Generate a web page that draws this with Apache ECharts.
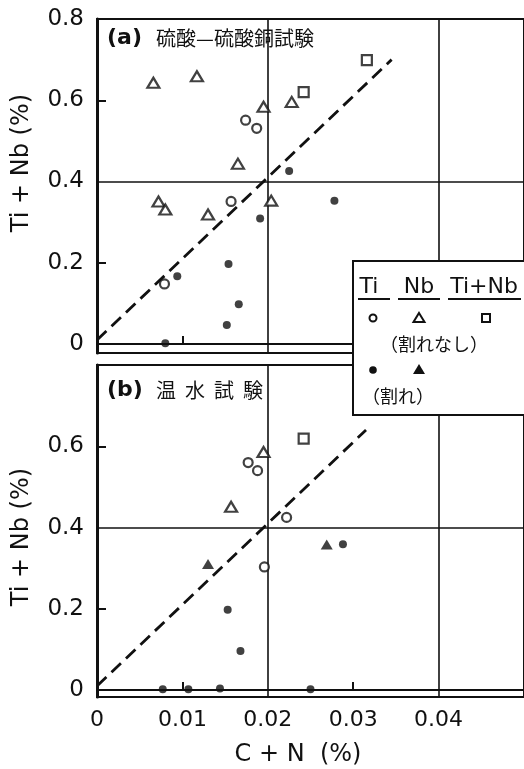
<!DOCTYPE html>
<html>
<head>
<meta charset="utf-8">
<script src="https://cdn.jsdelivr.net/npm/echarts@6/dist/echarts.min.js"></script>
<style>
  html, body { margin: 0; padding: 0; background: #fff; }
  #chart { width: 524px; height: 769px; }
</style>
</head>
<body>
<div id="chart"></div>
<script>
// (a) 硫酸-硫酸銅試験  [C+N %, Ti+Nb %]
const aTiOpen = [[0.0174, 0.551], [0.0187, 0.531], [0.0157, 0.351], [0.0079, 0.148]]
const aNbOpen = [[0.0066, 0.643], [0.0117, 0.659], [0.0195, 0.584], [0.0228, 0.596], [0.0165, 0.444],
  [0.0072, 0.351], [0.0080, 0.331], [0.0130, 0.319], [0.0204, 0.353]]
const aTiNbOpen = [[0.0316, 0.699], [0.0242, 0.620]]
const aTiCrack = [[0.0225, 0.426], [0.0278, 0.353], [0.0191, 0.309], [0.0154, 0.197], [0.0094, 0.167],
  [0.0166, 0.098], [0.0152, 0.047], [0.0080, 0.002]]
const aGuide = [[0, 0.01], [0.0345, 0.70]]

// (b) 温水試験
const bTiOpen = [[0.0177, 0.560], [0.0188, 0.540], [0.0222, 0.425], [0.0196, 0.303]]
const bNbOpen = [[0.0195, 0.586], [0.0157, 0.451]]
const bTiNbOpen = [[0.0242, 0.619]]
const bTiCrack = [[0.0288, 0.359], [0.0153, 0.198], [0.0168, 0.096], [0.0077, 0.002], [0.0107, 0.002],
  [0.0144, 0.004], [0.0250, 0.002]]
const bNbCrack = [[0.0130, 0.310], [0.0269, 0.358]]
const bGuide = [[0, 0.01], [0.0315, 0.64]]

const xLabels = [0, 0.01, 0.02, 0.03, 0.04]
const xTicks = [0.01, 0.03]
const yLabelsA = [0, 0.2, 0.4, 0.6, 0.8]
const yLabelsB = [0, 0.2, 0.4, 0.6]
const yTicks = [0.2, 0.6]
const refY = [0, 0.4]
const refX = [0.02, 0.04]

const ink = '#111'
const numFont = 'DejaVu Sans'
const cjkFont = 'Noto Sans CJK JP'

const chart = echarts.init(document.getElementById('chart'))

function xAxisFor (gridIndex, showLabels) {
  return {
    type: 'value',
    gridIndex: gridIndex,
    min: 0,
    max: 0.05,
    axisLine: { show: true, lineStyle: { color: ink, width: 2 } },
    axisTick: { show: true, inside: true, length: 8, customValues: xTicks, lineStyle: { color: ink, width: 2 } },
    axisLabel: {
      show: showLabels,
      customValues: xLabels,
      margin: 12,
      color: ink,
      fontFamily: numFont,
      fontSize: 22,
      formatter: v => (v === 0 ? '0' : v.toFixed(2))
    },
    splitLine: { show: false }
  }
}

function yAxisFor (gridIndex, min, labels) {
  return {
    type: 'value',
    gridIndex: gridIndex,
    min: min,
    max: 0.8,
    axisLine: { show: true, lineStyle: { color: ink, width: 3 } },
    axisTick: { show: true, inside: true, length: 9, customValues: yTicks, lineStyle: { color: ink, width: 2 } },
    axisLabel: {
      customValues: labels,
      margin: 13,
      color: ink,
      fontFamily: numFont,
      fontSize: 23,
      formatter: v => (v === 0 ? '0' : v.toFixed(1))
    },
    splitLine: { show: false }
  }
}

function refLines () {
  return {
    silent: true,
    symbol: 'none',
    label: { show: false },
    lineStyle: { color: ink, width: 1.6, type: 'solid' },
    data: refY.map(v => ({ yAxis: v })).concat(refX.map(v => ({ xAxis: v })))
  }
}

function guide (idx, data) {
  return {
    type: 'line',
    xAxisIndex: idx,
    yAxisIndex: idx,
    data: data,
    symbol: 'none',
    lineStyle: { color: ink, width: 2.8, type: [13, 7] },
    markLine: refLines(),
    z: 3
  }
}

const openStyle = { color: '#fff', borderColor: ink, borderWidth: 2.2 }
const fillStyle = { color: ink, borderWidth: 0 }

function pts (idx, data, symbol, size, style) {
  return {
    type: 'scatter',
    xAxisIndex: idx,
    yAxisIndex: idx,
    data: data,
    symbol: symbol,
    symbolSize: size,
    itemStyle: style,
    z: 5
  }
}

const center = { align: 'center', verticalAlign: 'middle', textAlign: 'center', textVerticalAlign: 'middle' }
const leftMid = { verticalAlign: 'middle', textVerticalAlign: 'middle' }

function txt (x, y, text, font, pos, extra) {
  return Object.assign({ type: 'text', x: x, y: y, style: Object.assign({ text: text, font: font, fill: ink }, pos) }, extra || {})
}

// 凡例（表形式）
const legendGraphic = [
  { type: 'rect', z: 100, shape: { x: 353, y: 261, width: 190, height: 154 }, style: { fill: '#fff', stroke: ink, lineWidth: 2 } },
  txt(369, 287, 'Ti', '22px ' + numFont, center, { z: 101 }),
  txt(419, 287, 'Nb', '22px ' + numFont, center, { z: 101 }),
  txt(484, 287, 'Ti+Nb', '22px ' + numFont, center, { z: 101 }),
  { type: 'line', z: 101, shape: { x1: 358, y1: 299, x2: 390, y2: 299 }, style: { stroke: ink, lineWidth: 2 } },
  { type: 'line', z: 101, shape: { x1: 398, y1: 299, x2: 440, y2: 299 }, style: { stroke: ink, lineWidth: 2 } },
  { type: 'line', z: 101, shape: { x1: 448, y1: 299, x2: 521, y2: 299 }, style: { stroke: ink, lineWidth: 2 } },
  { type: 'circle', z: 101, shape: { cx: 373, cy: 318, r: 3.5 }, style: { fill: '#fff', stroke: ink, lineWidth: 2 } },
  { type: 'polygon', z: 101, shape: { points: [[419, 313], [424.5, 322], [413.5, 322]] }, style: { fill: '#fff', stroke: ink, lineWidth: 2 } },
  { type: 'rect', z: 101, shape: { x: 482, y: 314, width: 8, height: 8 }, style: { fill: '#fff', stroke: ink, lineWidth: 2 } },
  txt(434, 344, '（割れなし）', '18px "' + cjkFont + '"', center, { z: 101 }),
  { type: 'circle', z: 101, shape: { cx: 373, cy: 370, r: 3.8 }, style: { fill: ink } },
  { type: 'polygon', z: 101, shape: { points: [[419, 364], [425, 374], [413, 374]] }, style: { fill: ink } },
  txt(398, 396, '（割れ）', '18px "' + cjkFont + '"', center, { z: 101 })
]

const textGraphic = [
  txt(107, 38, '(a)', 'bold 22px ' + numFont, leftMid),
  txt(156, 38, '硫酸—硫酸銅試験', '20px "' + cjkFont + '"', leftMid),
  txt(107, 390, '(b)', 'bold 22px ' + numFont, leftMid),
  txt(156, 390, '温  水  試  験', '20px "' + cjkFont + '"', leftMid),
  txt(22, 163, 'Ti + Nb (%)', '24px ' + numFont, center, { rotation: Math.PI / 2 }),
  txt(22, 537, 'Ti + Nb (%)', '24px ' + numFont, center, { rotation: Math.PI / 2 }),
  txt(298, 755, 'C + N  (%)', '24px ' + numFont, center)
]

const options = {
  backgroundColor: '#fff',
  animation: false,
  grid: [
    { left: 97, top: 19, right: -3, height: 334, show: true, borderColor: ink, borderWidth: 2, backgroundColor: 'transparent' },
    { left: 97, top: 365, right: -3, height: 332, show: true, borderColor: ink, borderWidth: 2, backgroundColor: 'transparent' }
  ],
  xAxis: [xAxisFor(0, false), xAxisFor(1, true)],
  yAxis: [yAxisFor(0, -0.022, yLabelsA), yAxisFor(1, -0.017, yLabelsB)],
  series: [
    guide(0, aGuide),
    pts(0, aTiOpen, 'circle', 9, openStyle),
    pts(0, aNbOpen, 'triangle', [12, 10], openStyle),
    pts(0, aTiNbOpen, 'rect', 10, openStyle),
    pts(0, aTiCrack, 'circle', 8, fillStyle),
    guide(1, bGuide),
    pts(1, bTiOpen, 'circle', 9, openStyle),
    pts(1, bNbOpen, 'triangle', [12, 10], openStyle),
    pts(1, bTiNbOpen, 'rect', 10, openStyle),
    pts(1, bTiCrack, 'circle', 8, fillStyle),
    pts(1, bNbCrack, 'triangle', [12, 10], fillStyle)
  ],
  graphic: textGraphic.concat(legendGraphic)
}

chart.setOption(options)
</script>
</body>
</html>
